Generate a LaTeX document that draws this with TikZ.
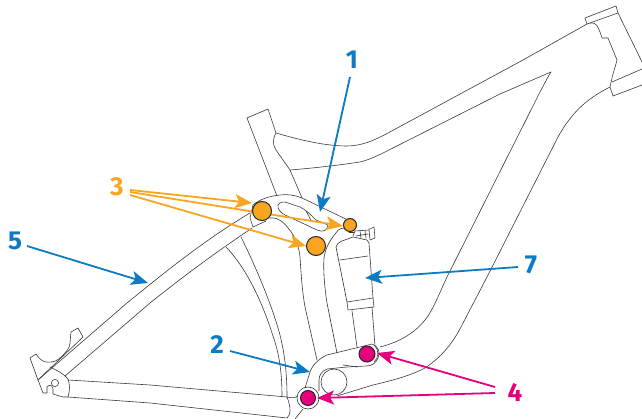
\documentclass[tikz,border=0pt]{standalone}
\usepackage{fontspec}
\setmainfont{Fira Sans}
\usetikzlibrary{arrows.meta}
\definecolor{fblue}{HTML}{0A7BC4}
\definecolor{forange}{HTML}{F9A51F}
\definecolor{fpink}{HTML}{E6007E}
\definecolor{fline}{HTML}{3A3A3A}
\tikzset{
  frame/.style={draw=fline,line width=0.6pt,line join=round,line cap=round},
  num/.style={font=\fontsize{26}{26}\selectfont\bfseries,inner sep=0pt},
  callout/.style={line width=1.8pt,-{Stealth[length=17pt,width=14pt,inset=4pt]}},
  pivot/.style={circle,draw=black!85,line width=1pt,inner sep=0pt},
}
\begin{document}
\begin{tikzpicture}[x=1pt,y=-1pt]
\useasboundingbox (0,0) rectangle (642,419);
% main triangle
\draw[frame] (276,133) .. controls (300,140) and (325,146) .. (347,146) .. controls (362,146) and (375,140) .. (388,133) -- (523,60) -- (587,24);
\draw[frame] (290,170) .. controls (315,168) and (340,165) .. (360,162) .. controls (368,160) and (375,157) .. (383,153) -- (500,94) -- (551,72);
\draw[frame] (247,118) -- (268,109) -- (276,133) .. controls (272,140) and (273,145) .. (276,150) -- (290,170) -- (302,198);
\draw[frame] (247,118) -- (277,196);
\draw[frame] (551,72) .. controls (547,78) and (544,85) .. (540,92) -- (447,277) .. controls (440,292) and (435,305) .. (428,316) .. controls (417,332) and (400,342) .. (380,347);
\draw[frame] (610,87) .. controls (590,97) and (578,108) .. (569,120) .. controls (565,125) and (562,130) .. (558,137) -- (487,277) -- (462,325) .. controls (452,345) and (440,358) .. (425,368) .. controls (410,376) and (390,381) .. (373,385) -- (337,396);
% head tube
\draw[frame] (587,24) -- (585,18) -- (616,6) -- (618,13) -- (587,24);
\draw[frame] (618,13) -- (642,62);
\draw[frame] (590,23) .. controls (597,22) and (598,28) .. (600,32) -- (602,38) -- (608,38) -- (617,60) .. controls (615,68) and (613,73) .. (612,78) -- (610,87) -- (613,96) -- (642,85);
\draw[frame] (612,82) -- (642,69);
% seat stay
\draw[frame] (38,380) -- (127,303) .. controls (170,268) and (205,240) .. (250,213);
\draw[frame] (65,376) -- (150,303) .. controls (185,275) and (215,253) .. (252,228);
\draw[frame] (83,337) -- (38,380);
\draw[frame] (38,380) -- (30,358) -- (36,354) .. controls (39,358) and (41,361) .. (46,362) .. controls (52,363) and (58,361) .. (62,356) .. controls (66,352) and (70,348) .. (70,343) -- (71,332) -- (78,328) -- (83,337);
\draw[frame] (38,380) -- (43,393) -- (47,393) -- (47,387) .. controls (50,384) and (52,385) .. (53,389) -- (53,394) -- (63,397) -- (68,397) .. controls (70,390) and (70,385) .. (68,379) .. controls (63,373) and (56,370) .. (50,367);
\draw[frame] (55,383) circle[radius=3.6];
% chain stay
\draw[frame] (68,380) -- (150,385) -- (287,397) .. controls (289,402) and (290,406) .. (290,411) .. controls (290,414) and (289,416) .. (287,418);
\draw[frame] (68,397) -- (150,403) -- (287,418);
\draw[frame] (287,397) .. controls (291,398) and (295,398) .. (298,396);
\draw[frame] (295,419) -- (303,409);
% seat stay arches
\draw[frame] (226,247) .. controls (248,270) and (263,305) .. (272,333) .. controls (280,355) and (282,375) .. (282,397);
\draw[frame] (241,237) .. controls (255,265) and (272,305) .. (280,335) .. controls (285,355) and (287,375) .. (287,397);
% rocker
\draw[frame] (253,205) .. controls (260,199) and (270,196) .. (280,195) .. controls (287,194) and (295,195) .. (302,198) -- (352,222);
\draw[frame] (253,205) -- (250,218) -- (253,227);
\draw[frame] (253,227) -- (266,221);
\draw[frame] (270,218) .. controls (279,217) and (284,223) .. (289,229) .. controls (296,238) and (299,247) .. (300,257) .. controls (301,272) and (302,290) .. (305,307) -- (317,360);
\draw[frame] (345,228) .. controls (339,228) and (337,231) .. (335,234) .. controls (328,243) and (325,250) .. (324,258) .. controls (323,272) and (325,290) .. (327,303) -- (337,353);
\draw[frame] (278,205) .. controls (280,202) and (283,201) .. (288,203) -- (300,207) .. controls (306,210) and (310,214) .. (316,220) -- (328,225) .. controls (328,230) and (323,233) .. (317,230) -- (300,222) -- (285,215) .. controls (281,213) and (277,209) .. (278,205);
\draw[frame] (306,211) -- (312,222);
% shock
\draw[frame] (336,247) .. controls (337,244) and (338,243) .. (342,241) -- (353,237) -- (367,240) -- (369,243) -- (373,298) -- (347,302) -- (336,247);
\draw[frame] (340,260) -- (368,256);
\draw[frame] (347,302) -- (348,310) -- (374,307) -- (373,298);
\draw[frame] (352,311) -- (357,347);
\draw[frame] (372,307) -- (375,346);
\draw[frame] (370,229) -- (374,227) -- (375,238) -- (370,240) -- (369,229);
\draw[frame] (353,236) -- (355,231) -- (369,230);
\draw[frame] (356,236) -- (368,234);
\draw[frame] (360,231) -- (361,238);
\draw[frame] (365,231) -- (366,238);
\draw[frame] (349,232) -- (354,232);
% link
\draw[frame] (305,388) -- (310,372) .. controls (312,366) and (318,359) .. (327,355) -- (360,347) -- (372,344) .. controls (378,346) and (381,352) .. (378,358) .. controls (376,363) and (372,366) .. (366,366) -- (347,367) -- (327,369) .. controls (322,371) and (319,375) .. (319,380) -- (319,391);
\draw[frame] (375,346) .. controls (379,350) and (379,358) .. (374,362);
\draw[frame] (343,365) -- (357,367);
\draw[frame] (334,382) circle[radius=13];
% callouts
\node[num,text=fblue] (n1) at (352,60) {1};
\node[num,text=fblue] (n2) at (217,345) {2};
\node[num,text=forange] (n3) at (117,187) {3};
\node[num,text=fpink] (n4) at (515,392) {4};
\node[num,text=fblue] (n5) at (15,241) {5};
\node[num,text=fblue] (n7) at (531,265) {7};
\coordinate (s1) at (350,77); \coordinate (t1) at (320,212);
\coordinate (s2) at (230,351); \coordinate (t2) at (310,372);
\coordinate (s5) at (27,246); \coordinate (t5) at (148,283);
\coordinate (s7) at (518,267); \coordinate (t7) at (365,278);
\coordinate (s3a) at (130,190); \coordinate (t3a) at (252,203);
\coordinate (s3b) at (130,192); \coordinate (t3b) at (343,226);
\coordinate (s3c) at (130,195); \coordinate (t3c) at (306,246);
\coordinate (s4a) at (495,387); \coordinate (t4a) at (377,353);
\coordinate (s4b) at (495,393); \coordinate (t4b) at (317,398);
\draw[callout,fblue] (s1) -- (t1);
\draw[callout,fblue] (s2) -- (t2);
\draw[callout,fblue] (s5) -- (t5);
\draw[callout,fblue] (s7) -- (t7);
\draw[callout,forange] (s3a) -- (t3a);
\draw[callout,forange] (s3b) -- (t3b);
\draw[callout,forange] (s3c) -- (t3c);
\draw[callout,fpink] (s4a) -- (t4a);
\draw[callout,fpink] (s4b) -- (t4b);
% pivots
\node[pivot,fill=forange,minimum size=19pt] (p1) at (262,211) {};
\node[pivot,fill=forange,minimum size=19pt] (p2) at (316,246) {};
\node[pivot,fill=forange,minimum size=13pt] (p3) at (350,225) {};
\node[pivot,draw=fline,line width=.6pt,minimum size=22pt] (r1) at (308,398) {};
\node[pivot,fill=fpink,minimum size=15pt] (p4) at (308,398) {};
\node[pivot,fill=fpink,minimum size=16pt] (p5) at (367,354) {};
\end{tikzpicture}
\end{document}
